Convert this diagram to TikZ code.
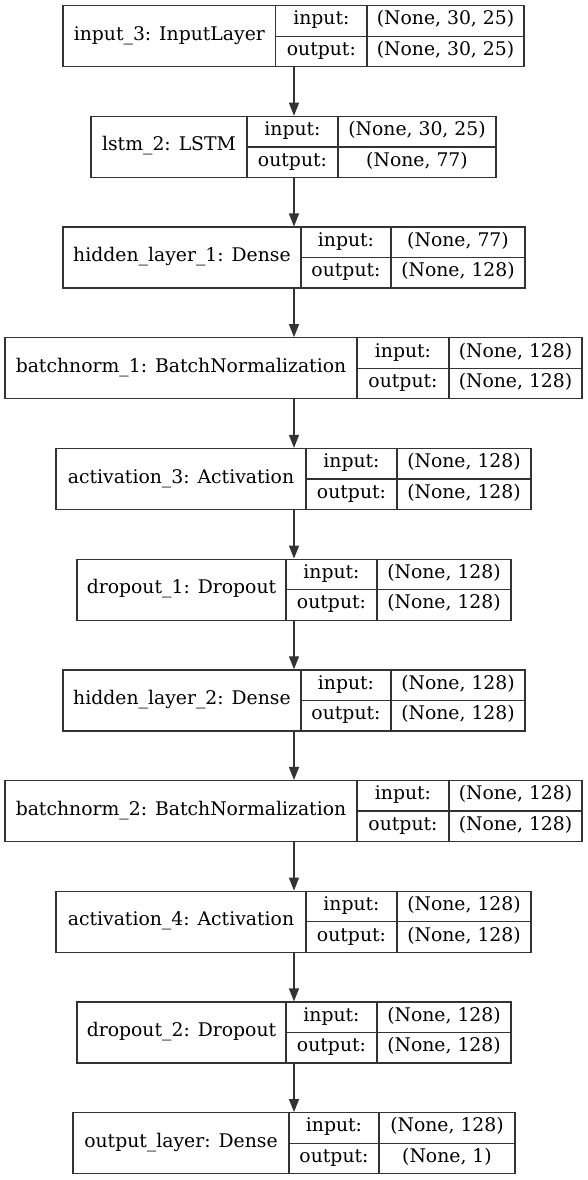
\documentclass[tikz,border=0pt]{standalone}
\usepackage{fontspec}
\setmainfont{DejaVu Serif}
\usetikzlibrary{arrows.meta}
\newcommand\layerbox[9]{%
  \pgfmathsetmacro\ymid{#2+30.5}%
  \pgfmathsetmacro\ybot{#2+61}%
  \pgfmathsetmacro\wid{#6-#3}%
  \pgfmathsetmacro\cx{(#3+#6)/2}%
  \pgfmathsetmacro\cy{#2+30.5}%
  \pgfmathsetmacro\ca{(#3+#4)/2}%
  \pgfmathsetmacro\cb{(#4+#5)/2}%
  \pgfmathsetmacro\cc{(#5+#6)/2}%
  \pgfmathsetmacro\yr{#2+15.25}%
  \pgfmathsetmacro\ys{#2+45.75}%
  \node[boxnode, minimum width=\wid pt] (#1) at (\cx,\cy) {};
  \draw[boxline] (#4,#2) -- (#4,\ybot);
  \draw[boxline] (#5,#2) -- (#5,\ybot);
  \draw[boxline] (#4,\ymid) -- (#6,\ymid);
  \node[txt] (#1-label) at (\ca,\cy) {#7};
  \node[txt] (#1-inkey) at (\cb,\yr) {input:};
  \node[txt] (#1-outkey) at (\cb,\ys) {output:};
  \node[txt] (#1-inval) at (\cc,\yr) {#8};
  \node[txt] (#1-outval) at (\cc,\ys) {#9};
}
\begin{document}
\begin{tikzpicture}[x=1pt,y=-1pt,
  boxline/.style={draw=black!80, line width=1.3pt},
  boxnode/.style={boxline, rectangle, inner sep=0pt, minimum height=61pt},
  txt/.style={inner sep=0pt, text height=0.9em, text depth=0.1em, font=\fontsize{18.8}{22}\selectfont},
  conn/.style={draw=black!80, line width=1.3pt, -{Triangle[length=13pt,width=10pt]}}]
\useasboundingbox (0,0) rectangle (588,1180);
\fill[white] (0,0) rectangle (588,1180);
\coordinate (ax) at (294,0);
\layerbox{b1}{5.7}{63}{275.7}{367}{524}{input\_3: InputLayer}{(None, 30, 25)}{(None, 30, 25)}
\layerbox{b2}{116.4}{91}{247}{338}{496}{lstm\_2: LSTM}{(None, 30, 25)}{(None, 77)}
\layerbox{b3}{227.1}{63}{301}{391}{525}{hidden\_layer\_1: Dense}{(None, 77)}{(None, 128)}
\layerbox{b4}{337.8}{5}{357}{449}{582}{batchnorm\_1: BatchNormalization}{(None, 128)}{(None, 128)}
\layerbox{b5}{448.5}{56}{306}{397}{531}{activation\_3: Activation}{(None, 128)}{(None, 128)}
\layerbox{b6}{559.2}{77}{286}{377}{511}{dropout\_1: Dropout}{(None, 128)}{(None, 128)}
\layerbox{b7}{669.9}{63}{301}{391}{525}{hidden\_layer\_2: Dense}{(None, 128)}{(None, 128)}
\layerbox{b8}{780.6}{5}{357}{449}{582}{batchnorm\_2: BatchNormalization}{(None, 128)}{(None, 128)}
\layerbox{b9}{891.3}{56}{306}{397}{531}{activation\_4: Activation}{(None, 128)}{(None, 128)}
\layerbox{b10}{1002}{77}{286}{377}{511}{dropout\_2: Dropout}{(None, 128)}{(None, 128)}
\layerbox{b11}{1112.7}{73}{289}{379}{515}{output\_layer: Dense}{(None, 128)}{(None, 1)}
\foreach \a/\b in {b1/b2,b2/b3,b3/b4,b4/b5,b5/b6,b6/b7,b7/b8,b8/b9,b9/b10,b10/b11}
  \draw[conn] (\a.south -| ax) -- (\b.north -| ax);
\end{tikzpicture}
\end{document}
